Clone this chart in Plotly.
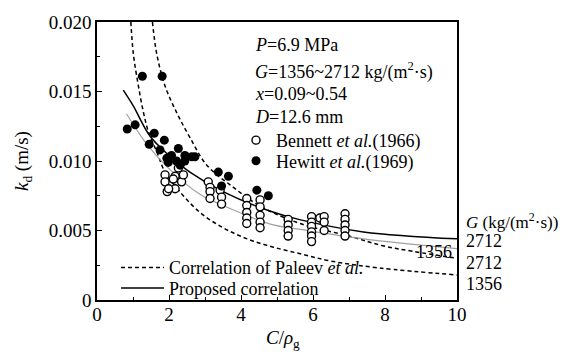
import plotly.graph_objects as go

# ---------------- data ----------------
bennett_x = [1.89, 1.89, 1.95, 2.17, 2.17, 2.35, 2.40, 2.26, 2.12, 1.99,
             3.09, 3.14, 3.14, 3.14, 3.42, 3.46, 3.46,
             4.16, 4.16, 4.16, 4.16, 4.16, 4.53, 4.53, 4.53, 4.53, 4.53,
             5.31, 5.31, 5.31, 5.31,
             5.96, 5.96, 5.96, 5.96, 5.96, 5.96, 6.19, 6.31, 6.31, 6.31,
             6.89, 6.89, 6.89, 6.89, 6.89]
bennett_y = [0.0090, 0.0085, 0.0078, 0.0089, 0.0080, 0.0085, 0.0090, 0.0095, 0.0087, 0.0080,
             0.0085, 0.0081, 0.0078, 0.0073, 0.0079, 0.0074, 0.0069,
             0.0073, 0.0068, 0.0063, 0.0059, 0.0055, 0.0072, 0.0067, 0.0061, 0.0056, 0.0052,
             0.0058, 0.0054, 0.0050, 0.0046,
             0.0060, 0.0056, 0.0053, 0.0049, 0.0046, 0.0042, 0.0059, 0.0060, 0.0056, 0.0050,
             0.0062, 0.0058, 0.0054, 0.0050, 0.0046]

hewitt_x = [0.84, 1.06, 1.26, 1.81, 1.45, 1.59, 1.75, 1.87,
            2.26, 2.07, 2.44, 2.63, 1.94, 2.21, 2.44, 1.98, 2.31, 2.72,
            3.37, 3.65, 3.46, 4.44, 4.76]
hewitt_y = [0.0123, 0.0126, 0.0161, 0.0161, 0.0112, 0.0120, 0.0108, 0.0115,
            0.0109, 0.0104, 0.0104, 0.0103, 0.0102, 0.0100, 0.0100, 0.0099, 0.0097, 0.0103,
            0.0092, 0.0089, 0.0082, 0.0079, 0.0075]

# Proposed correlation, G = 2712 (black) and G = 1356 (grey)
prop2712_x = [0.73, 1.0, 1.47, 2.0, 2.58, 3.5, 4.8, 5.6, 7.4, 10.0]
prop2712_y = [0.0151, 0.0140, 0.0118, 0.0104, 0.0092, 0.0078, 0.0064, 0.0058, 0.0049, 0.0044]
prop1356_x = [0.82, 1.33, 1.94, 2.86, 3.5, 4.9, 5.6, 7.4, 10.0]
prop1356_y = [0.0134, 0.0114, 0.0096, 0.0076, 0.0068, 0.0054, 0.0051, 0.0044, 0.0037]

# Correlation of Paleev et al., G = 2712 and G = 1356
pal2712_x = [1.54, 1.66, 1.89, 2.21, 2.58, 3.05, 3.79, 4.5, 5.64, 7.0, 7.94, 8.78, 10.0]
pal2712_y = [0.0200, 0.0177, 0.0154, 0.0135, 0.0117, 0.0097, 0.0081, 0.0068, 0.0055, 0.0046, 0.0039, 0.0035, 0.0030]
pal1356_x = [0.94, 1.01, 1.15, 1.29, 1.43, 1.67, 1.89, 2.3, 2.86, 3.5, 4.17, 4.9, 5.69, 6.5, 7.86, 10.0]
pal1356_y = [0.0200, 0.0177, 0.0154, 0.0135, 0.0121, 0.0106, 0.0092, 0.0078, 0.0063, 0.0052, 0.0044, 0.0038, 0.0033, 0.0028, 0.0023, 0.0018]

x_ticks = [0, 2, 4, 6, 8, 10]
y_ticks = [0, 0.005, 0.010, 0.015, 0.020]
y_tick_text = ["0", "0.005", "0.010", "0.015", "0.020"]

right_labels = ["2712", "2712", "1356"]

# ---------------- figure ----------------
FONT = "Liberation Serif"
W, H = 566, 356
L, R, T, B = 97, 457, 16, 300


def px(xp):
    return (xp - L) / (R - L)


def py(yp):
    return (B - yp) / (B - T)


fig = go.Figure()

dash = "4px,3px"
fig.add_trace(go.Scatter(x=pal2712_x, y=pal2712_y, mode="lines", line=dict(color="black", width=1.5, dash=dash, shape="spline"),
                         name="Correlation of Paleev <i>et al.</i>", legend="legend", showlegend=True))
fig.add_trace(go.Scatter(x=pal1356_x, y=pal1356_y, mode="lines", line=dict(color="black", width=1.5, dash=dash, shape="spline"),
                         showlegend=False))
fig.add_trace(go.Scatter(x=prop1356_x, y=prop1356_y, mode="lines", line=dict(color="#a0a0a0", width=1.2, shape="spline"),
                         showlegend=False))
fig.add_trace(go.Scatter(x=prop2712_x, y=prop2712_y, mode="lines", line=dict(color="black", width=1.5, shape="spline"),
                         name="Proposed correlation", legend="legend3", showlegend=True))

fig.add_trace(go.Scatter(x=bennett_x, y=bennett_y, mode="markers",
                         marker=dict(symbol="circle", size=8, color="white", line=dict(color="black", width=1.4)),
                         name="Bennett <i>et al.</i>(1966)", legend="legend2"))
fig.add_trace(go.Scatter(x=hewitt_x, y=hewitt_y, mode="markers",
                         marker=dict(symbol="circle", size=9, color="black", line=dict(color="black", width=0)),
                         name="Hewitt <i>et al.</i>(1969)", legend="legend4"))

axis_common = dict(showline=True, linecolor="black", linewidth=1.5, mirror=True, showgrid=False, zeroline=False,
                   ticks="inside", ticklen=5, tickwidth=1, tickcolor="black",
                   tickfont=dict(family=FONT, size=19, color="black"))

fig.update_xaxes(range=[0, 10], tickvals=x_ticks, ticktext=[str(v) for v in x_ticks], ticklabelstandoff=-4,
                 minor=dict(ticks="inside", ticklen=3, dtick=1, tickcolor="black"), **axis_common)
fig.update_yaxes(range=[0, 0.020], tickvals=y_ticks, ticktext=y_tick_text,
                 minor=dict(ticks="inside", ticklen=3, dtick=0.0025, tickcolor="black"), **axis_common)

ann_font = dict(family=FONT, size=18, color="black")
annotations = []
info = [("<i>P</i>=6.9 MPa", 39),
        ("<i>G</i>=1356~2712 kg/(m<sup>2</sup>·s)", 66),
        ("<i>x</i>=0.09~0.54", 90),
        ("<i>D</i>=12.6 mm", 113)]
for txt, yp in info:
    annotations.append(dict(text=txt, x=px(253), y=py(yp), xref="paper", yref="paper",
                            xanchor="left", yanchor="middle", showarrow=False, font=ann_font))

annotations.append(dict(text="<i>G</i> (kg/(m<sup>2</sup>·s))", x=px(464), y=py(219), xref="paper", yref="paper",
                        xanchor="left", yanchor="middle", showarrow=False, font=dict(family=FONT, size=17)))
for txt, yp in zip(right_labels, [240, 262, 284]):
    annotations.append(dict(text=txt, x=px(464), y=py(yp), xref="paper", yref="paper",
                            xanchor="left", yanchor="middle", showarrow=False, font=ann_font))
annotations.append(dict(text="1356", x=px(434), y=py(251), xref="paper", yref="paper",
                        xanchor="center", yanchor="middle", showarrow=False, font=ann_font))

annotations.append(dict(text="<i>k</i><sub>d</sub> (m/s)", x=px(23), y=py(158), xref="paper", yref="paper",
                        xanchor="center", yanchor="middle", textangle=-90, showarrow=False,
                        font=dict(family=FONT, size=19, color="black")))
annotations.append(dict(text="<i>C</i>/<i>ρ</i><sub>g</sub>", x=px(283), y=py(340), xref="paper", yref="paper",
                        xanchor="center", yanchor="middle", showarrow=False,
                        font=dict(family=FONT, size=19, color="black")))


def one_legend(xp, yp, iw):
    return dict(x=px(xp), y=py(yp), xanchor="left", yanchor="middle", bgcolor="rgba(0,0,0,0)",
                font=ann_font, tracegroupgap=0, itemwidth=iw, borderwidth=0)


fig.update_layout(
    width=W, height=H,
    margin=dict(l=L, r=W - R, t=T, b=H - B, pad=0),
    paper_bgcolor="white", plot_bgcolor="white",
    font=dict(family=FONT, size=18, color="black"),
    annotations=annotations,
    legend=one_legend(116, 267, 43),
    legend3=one_legend(116, 288, 43),
    legend2=one_legend(236, 137, 30),
    legend4=one_legend(236, 158, 30),
)

fig.write_html("out.html")
